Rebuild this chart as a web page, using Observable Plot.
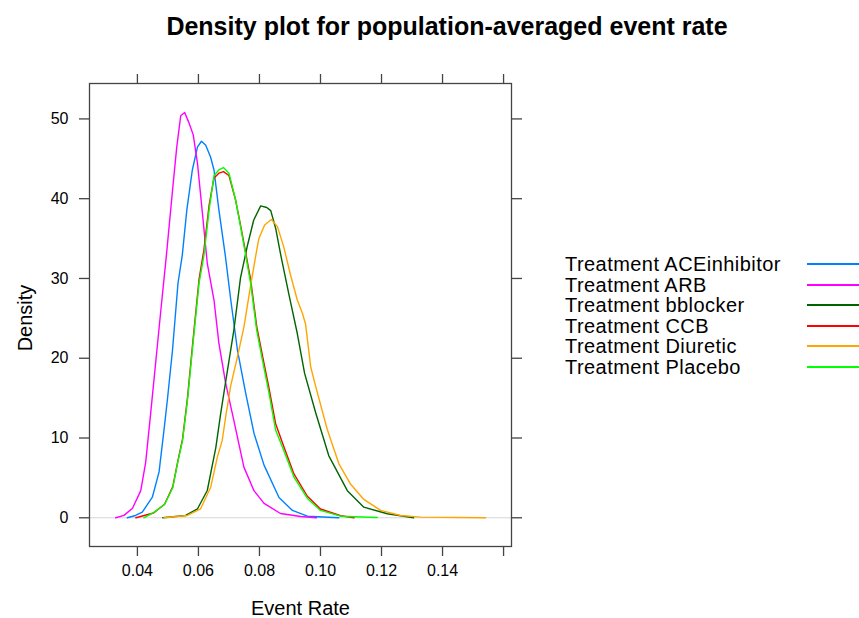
<!DOCTYPE html>
<html>
<head>
<meta charset="utf-8">
<script src="https://cdn.jsdelivr.net/npm/d3@7"></script>
<script src="https://cdn.jsdelivr.net/npm/@observablehq/plot@0.6"></script>
<style>
  html, body { margin: 0; padding: 0; background: #fff; }
  #wrap { position: relative; width: 859px; height: 618px; overflow: hidden; font-family: "Liberation Sans", Arial, sans-serif; }
  #title { position: absolute; left: 0; top: 14px; width: 894px; text-align: center; font-weight: bold; font-size: 25px; line-height: 25px; color: #000; }
  #legend { position: absolute; left: 565px; top: 254px; width: 294px; height: 130px; }
  .row { position: absolute; left: 0; height: 20px; line-height: 20px; font-size: 20px; letter-spacing: 0.45px; color: #000; white-space: nowrap; }
  .swatch { position: absolute; left: 242px; height: 1.5px; width: 70px; }
  #chart { position: absolute; left: 0; top: 0; }
</style>
</head>
<body>
<div id="wrap">
  <div id="chart"></div>
  <div id="title">Density plot for population-averaged event rate</div>
  <div id="legend"></div>
</div>
<script>
// ---- data ----
const seriesNames = ["Treatment ACEinhibitor", "Treatment ARB", "Treatment bblocker", "Treatment CCB", "Treatment Diuretic", "Treatment Placebo"];
const seriesColors = ["#0080ff", "#ff00ff", "#006400", "#ff0000", "#ffa500", "#00ff00"];

const aceRate = [0.0367,0.0394,0.0416,0.0427,0.0449,0.0471,0.0487,0.0498,0.0515,0.0533,0.0547,0.0562,0.0580,0.0597,0.0610,0.0624,0.0640,0.0651,0.0667,0.0688,0.0706,0.0728,0.0755,0.0782,0.0815,0.0864,0.0908,0.0957,0.1060];
const aceDens = [0,0.29,0.7,1.33,2.58,5.75,10.95,14.7,21.0,29.4,32.9,38.6,43.6,46.5,47.2,46.7,45.2,43.6,38.6,32.9,27.3,21.0,15.6,10.6,6.6,2.55,0.92,0.2,0];

const arbRate = [0.0329,0.0356,0.0384,0.0411,0.0427,0.0444,0.0460,0.0476,0.0495,0.0515,0.0529,0.0542,0.0555,0.0568,0.0583,0.0597,0.0613,0.0629,0.0651,0.0667,0.0689,0.0716,0.0749,0.0782,0.0815,0.0869,0.0935,0.0987];
const arbDens = [0,0.3,1.2,3.4,6.9,13.3,19.5,25.7,32.9,41.0,46.5,50.4,50.8,49.6,48.0,44.4,38.2,31.9,27.3,21.9,16.9,12.2,6.35,3.4,1.8,0.54,0.16,0];

const bbRate = [0.0483,0.0558,0.0597,0.0629,0.0657,0.0673,0.0689,0.0716,0.0738,0.0761,0.0781,0.0804,0.0824,0.0837,0.0853,0.0870,0.0897,0.0924,0.0948,0.0984,0.1027,0.1088,0.1142,0.1219,0.1305];
const bbDens = [0,0.29,1.13,3.42,8.8,13.1,17.0,23.5,30.1,34.2,37.3,39.1,38.9,38.5,36.3,32.9,27.9,23.1,18.1,13.2,7.8,3.4,1.33,0.5,0];

const ccbRate = [0.0395,0.0453,0.0489,0.0516,0.0532,0.0548,0.0564,0.0580,0.0602,0.0618,0.0635,0.0651,0.0667,0.0682,0.0700,0.0722,0.0738,0.0755,0.0771,0.0791,0.0811,0.0831,0.0853,0.0880,0.0913,0.0957,0.1000,0.1066,0.1110];
const ccbDens = [0,0.6,1.7,3.9,7.0,9.9,15.0,21.4,29.9,33.6,39.2,42.6,43.2,43.4,42.9,39.8,36.7,33.2,29.9,24.0,20.1,16.3,11.8,8.9,5.5,2.7,1.1,0.25,0];

const diuRate = [0.0487,0.0564,0.0607,0.0640,0.0662,0.0678,0.0689,0.0706,0.0728,0.0749,0.0771,0.0788,0.0798,0.0817,0.0839,0.0859,0.0880,0.0902,0.0924,0.0941,0.0951,0.0968,0.0984,0.1022,0.1060,0.1099,0.1142,0.1197,0.1263,0.1328,0.1541];
const diuDens = [0,0.29,1.13,3.8,7.6,9.7,12.6,16.6,20.2,23.9,29.1,32.9,35.0,36.7,37.4,36.5,33.9,30.4,27.3,25.6,24.3,18.9,16.5,11.1,6.8,4.2,2.3,0.92,0.29,0.08,0];

const plaRate = [0.0421,0.0453,0.0489,0.0516,0.0532,0.0548,0.0564,0.0580,0.0602,0.0618,0.0635,0.0651,0.0667,0.0682,0.0700,0.0722,0.0738,0.0755,0.0771,0.0791,0.0811,0.0831,0.0853,0.0880,0.0913,0.0957,0.1000,0.1066,0.1186];
const plaDens = [0,0.66,1.67,3.8,6.9,9.7,14.7,21.0,29.4,32.9,38.6,42.9,43.6,43.9,43.2,39.8,36.5,32.9,29.4,23.5,19.5,15.7,11.0,8.4,5.1,2.42,0.92,0.2,0.04];

const xTicks = [0.04, 0.06, 0.08, 0.10, 0.12, 0.14, 0.16];
const xTickLabels = ["0.04", "0.06", "0.08", "0.10", "0.12", "0.14", ""];
const yTicks = [0, 10, 20, 30, 40, 50];

// ---- build table ----
const seriesData = [
  [aceRate, aceDens], [arbRate, arbDens], [bbRate, bbDens],
  [ccbRate, ccbDens], [diuRate, diuDens], [plaRate, plaDens]
];
const rows = [];
seriesData.forEach(([rs, ds], i) => {
  rs.forEach((r, j) => rows.push({series: seriesNames[i], rate: r, density: ds[j]}));
});

const fmtX = d => xTickLabels[xTicks.findIndex(t => Math.abs(t - d) < 1e-9)] ?? "";
const axisStroke = "#444";

const chart = Plot.plot({
  width: 859,
  height: 618,
  marginLeft: 89,
  marginRight: 348,
  marginTop: 83,
  marginBottom: 72,
  style: {fontFamily: "'Liberation Sans', Arial, sans-serif", fontSize: "16px", color: "#000", background: "transparent"},
  x: {domain: [0.0243, 0.1626]},
  y: {domain: [-3.6, 54.44]},
  color: {domain: seriesNames, range: seriesColors},
  marks: [
    Plot.ruleY([0], {stroke: "#d6d6d6", strokeWidth: 1}),
    Plot.line(rows, {x: "rate", y: "density", z: "series", stroke: "series", strokeWidth: 1.4, curve: "linear"}),
    Plot.frame({stroke: axisStroke, strokeWidth: 1.3}),
    Plot.axisX({anchor: "bottom", ticks: xTicks, tickFormat: fmtX, tickSize: 10, tickPadding: 8, stroke: axisStroke, strokeWidth: 1.3, label: null, fontSize: 16}),
    Plot.axisX({anchor: "top", ticks: xTicks, tickFormat: () => "", tickSize: 10, stroke: axisStroke, strokeWidth: 1.3, label: null}),
    Plot.axisY({anchor: "left", ticks: yTicks, tickSize: 10, tickPadding: 11, stroke: axisStroke, strokeWidth: 1.3, label: null, fontSize: 16}),
    Plot.axisY({anchor: "right", ticks: yTicks, tickFormat: () => "", tickSize: 10, stroke: axisStroke, strokeWidth: 1.3, label: null}),
    Plot.text(["Event Rate"], {frameAnchor: "bottom", dy: 62, fontSize: 20, textAnchor: "middle", lineAnchor: "middle"}),
    Plot.text(["Density"], {frameAnchor: "left", dx: -64, dy: 3, rotate: -90, fontSize: 20, textAnchor: "middle", lineAnchor: "middle"})
  ]
});
document.getElementById("chart").appendChild(chart);

// ---- legend ----
const legend = document.getElementById("legend");
seriesNames.forEach((name, i) => {
  const top = Math.round(i * 20.5);
  const row = document.createElement("div");
  row.className = "row";
  row.style.top = top + "px";
  row.textContent = name;
  legend.appendChild(row);
  const sw = document.createElement("div");
  sw.className = "swatch";
  sw.style.top = (top + 9) + "px";
  sw.style.background = seriesColors[i];
  legend.appendChild(sw);
});
</script>
</body>
</html>
